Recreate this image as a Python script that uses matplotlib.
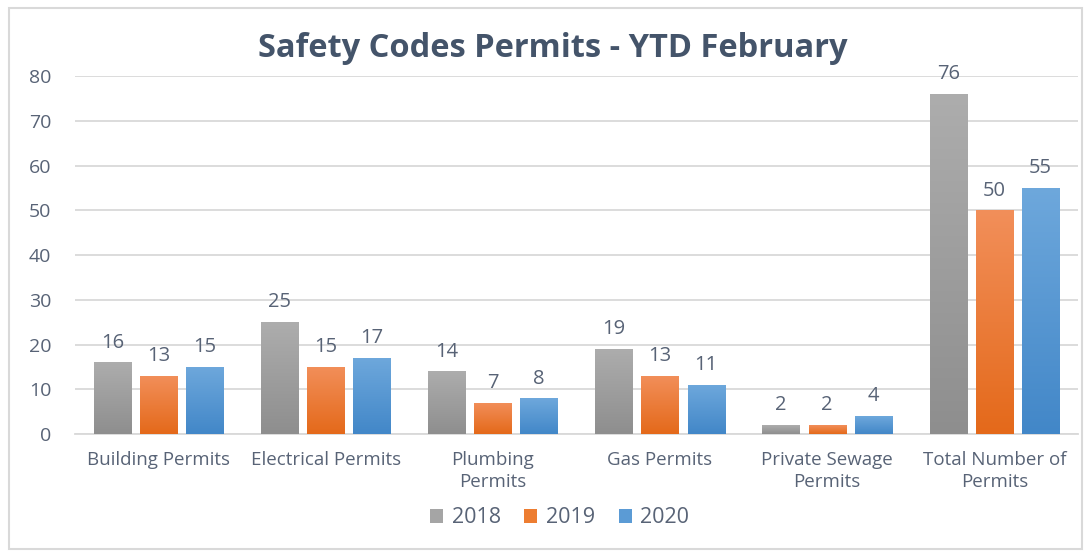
import numpy as np
import matplotlib
matplotlib.use('Agg')
import matplotlib.pyplot as plt
from matplotlib.patches import Rectangle, Patch
from matplotlib.colors import LinearSegmentedColormap

plt.rcParams['font.family'] = ['Open Sans', 'DejaVu Sans']

# DATA ---------------------------------------------------------------------------------------------
categories = ['Building Permits', 'Electrical Permits', 'Plumbing\nPermits', 'Gas Permits',
              'Private Sewage\nPermits', 'Total Number of\nPermits']
years = ['2018', '2019', '2020']
v2018 = [16, 25, 14, 19, 2, 76]
v2019 = [13, 15, 7, 13, 2, 50]
v2020 = [15, 17, 8, 11, 4, 55]
series = [v2018, v2019, v2020]

# gradient (top, bottom) per series
grads = [('#adadad', '#8e8e8e'), ('#f28f5a', '#e4691a'), ('#6ea8dc', '#4287c8')]
solid = ['#a5a5a5', '#ed7d31', '#5b9bd5']
text_col = '#586376'

# PLOT ---------------------------------------------------------------------------------------------
fig = plt.figure(figsize=(10.91, 5.54), dpi=100)
fig.patches.append(Rectangle((0.008, 0.009), 0.984, 0.977, transform=fig.transFigure,
                             fill=False, edgecolor='#d9d9d9', linewidth=1.5))
ax = fig.add_axes([0.0687, 0.2166, 0.9193, 0.6462])

x = np.arange(len(categories))
width = 0.222
step = 0.276
grad_img = np.linspace(0, 1, 256).reshape(-1, 1)

for i, vals in enumerate(series):
    bars = ax.bar(x + (i - 1) * step, vals, width, color=solid[i], zorder=2, label=years[i])
    cmap = LinearSegmentedColormap.from_list('g%d' % i, [grads[i][1], grads[i][0]])
    for b, v in zip(bars, vals):
        bx, by = b.get_x(), b.get_y()
        bw, bh = b.get_width(), b.get_height()
        im = ax.imshow(grad_img, cmap=cmap, aspect='auto', origin='lower',
                       extent=[bx, bx + bw, by, by + bh], zorder=3)
        im.set_clip_path(b)
        ax.text(bx + bw / 2, by + bh + 4.4, str(v), ha='center', va='center',
                fontsize=14.5, color=text_col)

ax.set_xlim(-0.5, len(categories) - 0.5)
ax.set_ylim(0, 80)
ax.set_yticks(range(0, 81, 10))
ax.set_xticks(x)
ax.set_xticklabels(categories, fontsize=13.5, color=text_col, linespacing=1.3)
ax.tick_params(axis='y', labelsize=14, labelcolor=text_col, length=0, pad=17)
ax.tick_params(axis='x', length=0, pad=12)

ax.grid(axis='y', color='#d9d9d9', linewidth=1.3, zorder=0)
ax.set_axisbelow(True)
for s in ['left', 'right', 'top']:
    ax.spines[s].set_visible(False)
ax.spines['bottom'].set_color('#d9d9d9')
ax.spines['bottom'].set_linewidth(1.3)

fig.text(0.507, 0.913, 'Safety Codes Permits - YTD February', ha='center', va='center',
         fontsize=23.5, fontweight='bold', color='#44546a')

handles = [Patch(facecolor=solid[i], edgecolor='none') for i in range(3)]
fig.legend(handles, years, loc='center', bbox_to_anchor=(0.513, 0.065), ncol=3, frameon=False,
           fontsize=15.5, handlelength=0.6, handleheight=0.6, handletextpad=0.4,
           columnspacing=1.1, labelcolor=text_col)

fig.savefig('out.png', dpi=100)
